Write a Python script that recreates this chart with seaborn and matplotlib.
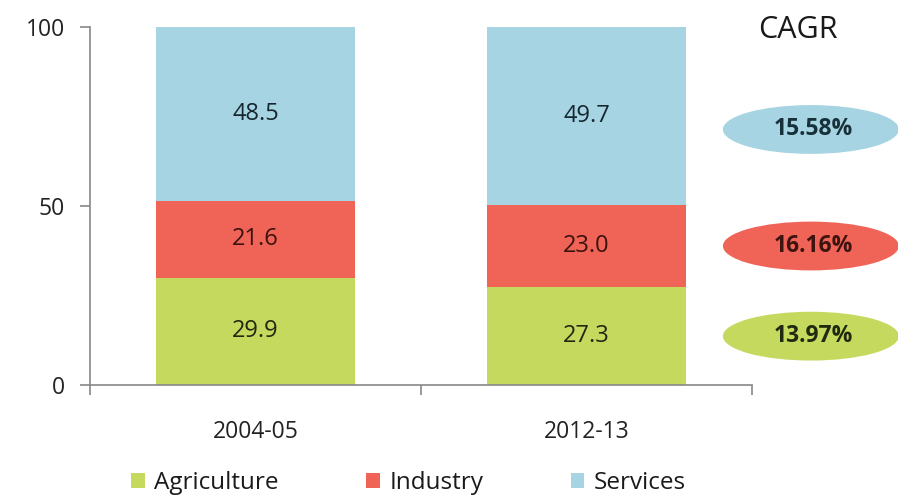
import matplotlib.pyplot as plt
from matplotlib.patches import Ellipse, Patch
import seaborn as sns
import pandas as pd

years = ['2004-05', '2012-13']
sectors = ['Agriculture', 'Industry', 'Services']
agriculture = [29.9, 27.3]
industry = [21.6, 23.0]
services = [48.5, 49.7]
cagr = ['13.97%', '16.16%', '15.58%']
colors = ['#c6d95f', '#ef6457', '#a6d4e2']

sns.set_style('white')
plt.rcParams['font.family'] = ['Open Sans', 'DejaVu Sans']

df = pd.DataFrame({'year': years, 'Agriculture': agriculture,
                   'Industry': industry, 'Services': services})
df['cum_ind'] = df['Agriculture'] + df['Industry']
df['cum_srv'] = df['cum_ind'] + df['Services']

fig = plt.figure(figsize=(8.98, 4.98), dpi=100)
ax = fig.add_axes([0.1002, 0.2269, 0.7372, 0.7189])

# stacked bars drawn as overlapping cumulative totals
for col, c in zip(['cum_srv', 'cum_ind', 'Agriculture'], colors[::-1]):
    sns.barplot(data=df, x='year', y=col, color=c, width=0.6,
                saturation=1, linewidth=0, edgecolor='none', ax=ax)

# value labels in the middle of each segment
for i in range(len(years)):
    base = 0
    for vals, tc in zip([agriculture, industry, services], ['#202810', '#3a120e', '#16262e']):
        v = vals[i]
        ax.text(i, base + v / 2, f'{v:.1f}', ha='center', va='center',
                fontsize=17, color=tc)
        base += v

ax.set_xlim(-0.5, 1.5)
ax.set_ylim(0, 100)
ax.set_yticks([0, 50, 100])
ax.set_xlabel('')
ax.set_ylabel('')
ax.set_xticks([0, 1])
ax.set_xticklabels(years)
ax.set_xticks([-0.5, 0.5, 1.5], minor=True)
ax.tick_params(axis='x', which='major', bottom=False, length=0, pad=25,
               labelsize=16.5, labelcolor='#222222')
ax.tick_params(axis='x', which='minor', bottom=True, length=7, width=1.2,
               color='#888888', direction='out')
ax.tick_params(axis='y', left=True, length=7, width=1.2, color='#888888',
               direction='out', labelsize=16.5, labelcolor='#222222', pad=11)
for s in ['top', 'right']:
    ax.spines[s].set_visible(False)
for s in ['left', 'bottom']:
    ax.spines[s].set_color('#888888')
    ax.spines[s].set_linewidth(1.2)

# CAGR ellipses
fig.text(0.888, 0.94, 'CAGR', ha='center', va='center', fontsize=22, color='#1a1a1a')
ell_y = [0.325, 0.506, 0.74]
ell_tc = ['#1f2a10', '#3d1410', '#17303a']
for yy, txt, c, tc in zip(ell_y, cagr, colors, ell_tc):
    fig.patches.append(Ellipse((0.903, yy), 0.196, 0.098, transform=fig.transFigure,
                               facecolor=c, edgecolor='none'))
    fig.text(0.906, yy, txt, ha='center', va='center', fontsize=16.5,
             fontweight='bold', color=tc)

handles = [Patch(facecolor=c, edgecolor='none') for c in colors]
fig.legend(handles, sectors, loc='lower center', bbox_to_anchor=(0.455, -0.038),
           ncol=3, frameon=False, fontsize=17.5, handlelength=0.55, handleheight=0.55,
           handletextpad=0.4, columnspacing=3.6, labelcolor='#1a1a1a')

fig.savefig('out.png', dpi=100)
